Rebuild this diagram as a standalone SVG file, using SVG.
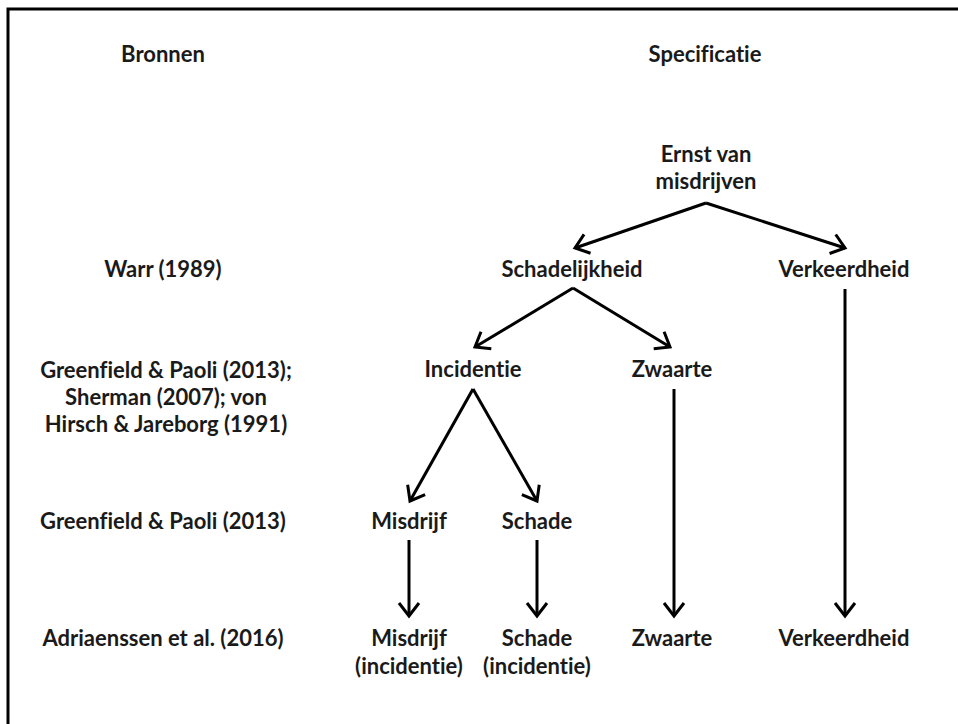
<svg xmlns="http://www.w3.org/2000/svg" width="958" height="724" viewBox="0 0 958 724">
<defs>
<style>
text{font-family:"Lato","Open Sans","Liberation Sans",sans-serif;font-weight:bold;font-size:22px;fill:#1a1a1a;text-anchor:middle;font-variant-ligatures:none}
.c{stroke:#000;stroke-width:3;fill:none}
</style>
<marker id="ah" markerUnits="userSpaceOnUse" markerWidth="30" markerHeight="30" viewBox="-20 -15 30 30" refX="0" refY="0" orient="auto">
<path d="M-13,-10 L0,0 L-13,10" stroke="#000" stroke-width="3" fill="none" stroke-linejoin="miter"/>
</marker>
</defs>
<rect width="958" height="724" fill="#fff"/>
<path d="M8,724 V9 H958" stroke="#000" stroke-width="3" fill="none"/>
<g id="headers">
<text x="163" y="62">Bronnen</text>
<text x="705" y="62">Specificatie</text>
</g>
<g id="sources">
<text x="163" y="277">Warr (1989)</text>
<text x="166" y="378">Greenfield &amp; Paoli (2013);</text>
<text x="166" y="405">Sherman (2007); von</text>
<text x="166" y="432">Hirsch &amp; Jareborg (1991)</text>
<text x="163" y="529">Greenfield &amp; Paoli (2013)</text>
<text x="163" y="646">Adriaenssen et al. (2016)</text>
</g>
<g id="n-ernst"><text x="706" y="162">Ernst van</text><text x="706" y="189">misdrijven</text></g>
<g id="n-schadelijkheid"><text x="572" y="277">Schadelijkheid</text></g>
<g id="n-verkeerdheid"><text x="844" y="277">Verkeerdheid</text></g>
<g id="n-incidentie"><text x="473" y="377">Incidentie</text></g>
<g id="n-zwaarte"><text x="672" y="377">Zwaarte</text></g>
<g id="n-misdrijf"><text x="409" y="529">Misdrijf</text></g>
<g id="n-schade"><text x="537" y="529">Schade</text></g>
<g id="n-misdrijf-inc"><text x="409" y="646">Misdrijf</text><text x="409" y="674">(incidentie)</text></g>
<g id="n-schade-inc"><text x="537" y="646">Schade</text><text x="537" y="674">(incidentie)</text></g>
<g id="n-zwaarte2"><text x="672" y="646">Zwaarte</text></g>
<g id="n-verkeerdheid2"><text x="844" y="646">Verkeerdheid</text></g>
<g id="connectors" class="c">
<line class="c" x1="706" y1="203" x2="575" y2="248" marker-end="url(#ah)"/>
<line class="c" x1="706" y1="203" x2="845" y2="248" marker-end="url(#ah)"/>
<line class="c" x1="573" y1="288" x2="475" y2="347" marker-end="url(#ah)"/>
<line class="c" x1="573" y1="288" x2="670" y2="347" marker-end="url(#ah)"/>
<line class="c" x1="845" y1="289" x2="845" y2="616" marker-end="url(#ah)"/>
<line class="c" x1="473" y1="389" x2="410" y2="501" marker-end="url(#ah)"/>
<line class="c" x1="473" y1="389" x2="537" y2="501" marker-end="url(#ah)"/>
<line class="c" x1="674" y1="389" x2="674" y2="616" marker-end="url(#ah)"/>
<line class="c" x1="409" y1="540" x2="409" y2="616" marker-end="url(#ah)"/>
<line class="c" x1="537" y1="540" x2="537" y2="616" marker-end="url(#ah)"/>
</g>
</svg>
